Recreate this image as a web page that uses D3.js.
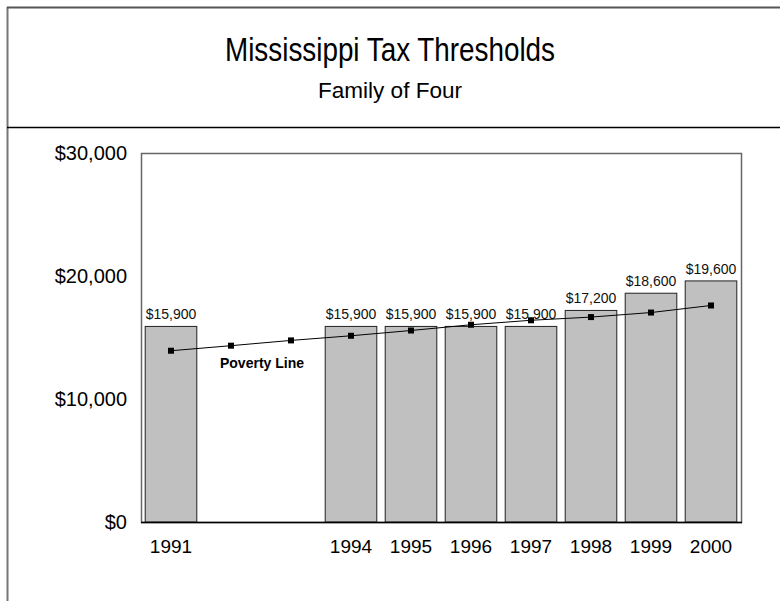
<!DOCTYPE html>
<html>
<head>
<meta charset="utf-8">
<script src="https://cdn.jsdelivr.net/npm/d3@7"></script>
<style>
  body { margin: 0; background: white; }
  svg { display: block; font-family: Arial, "Liberation Sans", sans-serif; }
</style>
</head>
<body>
<script>
// chart data
const years = ["1991", "1992", "1993", "1994", "1995", "1996", "1997", "1998", "1999", "2000"];
// tax threshold, null where no bar is drawn
const thresholds = [15900, null, null, 15900, 15900, 15900, 15900, 17200, 18600, 19600];
// poverty line for a family of four
const poverty = [13924, 14335, 14763, 15141, 15569, 16036, 16400, 16660, 17029, 17603];
const yTicks = [0, 10000, 20000, 30000];

const width = 780;
const height = 601;

// plot area
const plotLeft = 141;
const plotRight = 741;
const plotTop = 153;
const plotBottom = 522;

let svg = d3.select("body").append("svg")
  .attr("width", width)
  .attr("height", height);

// outer frame and header divider
svg.append("line")
  .attr("x1", 7.5).attr("x2", 7.5)
  .attr("y1", 7).attr("y2", height)
  .attr("stroke", "#777").attr("stroke-width", 2);
svg.append("line")
  .attr("x1", 7).attr("x2", width)
  .attr("y1", 7.5).attr("y2", 7.5)
  .attr("stroke", "#555").attr("stroke-width", 2);
svg.append("line")
  .attr("x1", 7).attr("x2", width)
  .attr("y1", 127.5).attr("y2", 127.5)
  .attr("stroke", "black").attr("stroke-width", 1.5);

// titles
svg.append("text")
  .attr("x", 390).attr("y", 61)
  .attr("text-anchor", "middle")
  .attr("font-size", 33)
  .attr("textLength", 330)
  .attr("lengthAdjust", "spacingAndGlyphs")
  .text("Mississippi Tax Thresholds");
svg.append("text")
  .attr("x", 390).attr("y", 98)
  .attr("text-anchor", "middle")
  .attr("font-size", 22)
  .attr("textLength", 144)
  .attr("lengthAdjust", "spacingAndGlyphs")
  .text("Family of Four");

// scales
let x = d3.scaleBand()
  .domain(years)
  .range([plotLeft, plotRight])
  .paddingInner(0.14)
  .paddingOuter(0.07);
let xc = d3.scalePoint()
  .domain(years)
  .range([plotLeft, plotRight])
  .padding(0.5);
let y = d3.scaleLinear()
  .domain([0, 30000])
  .range([plotBottom, plotTop]);

// plot area border
svg.append("rect")
  .attr("x", plotLeft + 0.5).attr("y", plotTop + 0.5)
  .attr("width", plotRight - plotLeft).attr("height", plotBottom - plotTop)
  .attr("fill", "none")
  .attr("stroke", "#666").attr("stroke-width", 1.5);

// bars
let barData = years.map((d, i) => ({ year: d, value: thresholds[i] }))
  .filter(d => d.value !== null);

svg.selectAll(".bar")
  .data(barData)
  .enter().append("rect")
  .attr("class", "bar")
  .attr("x", d => x(d.year))
  .attr("y", d => y(d.value))
  .attr("width", x.bandwidth())
  .attr("height", d => y(0) - y(d.value))
  .attr("fill", "#c0c0c0")
  .attr("stroke", "#222")
  .attr("stroke-width", 1);

// bar value labels
svg.selectAll(".barLabel")
  .data(barData)
  .enter().append("text")
  .attr("class", "barLabel")
  .attr("x", d => xc(d.year))
  .attr("y", d => y(d.value) - 7)
  .attr("text-anchor", "middle")
  .attr("font-size", 14)
  .attr("fill", "#111")
  .text(d => d3.format("$,")(d.value));

// bottom axis line
svg.append("line")
  .attr("x1", plotLeft).attr("x2", plotRight + 1)
  .attr("y1", plotBottom + 0.5).attr("y2", plotBottom + 0.5)
  .attr("stroke", "black").attr("stroke-width", 1.5);

// poverty line
let line = d3.line()
  .x((d, i) => xc(years[i]))
  .y(d => y(d));

svg.append("path")
  .datum(poverty)
  .attr("d", line)
  .attr("fill", "none")
  .attr("stroke", "black")
  .attr("stroke-width", 1);

svg.selectAll(".marker")
  .data(poverty)
  .enter().append("rect")
  .attr("class", "marker")
  .attr("x", (d, i) => xc(years[i]) - 3)
  .attr("y", d => y(d) - 3)
  .attr("width", 6)
  .attr("height", 6)
  .attr("fill", "black");

svg.append("text")
  .attr("x", 262).attr("y", 368)
  .attr("text-anchor", "middle")
  .attr("font-size", 14)
  .attr("font-weight", "bold")
  .text("Poverty Line");

// y axis labels
svg.selectAll(".yLabel")
  .data(yTicks)
  .enter().append("text")
  .attr("class", "yLabel")
  .attr("x", 127)
  .attr("y", d => y(d) + 7)
  .attr("text-anchor", "end")
  .attr("font-size", 20)
  .text(d => d3.format("$,")(d));

// x axis labels, only for years with a bar
svg.selectAll(".xLabel")
  .data(barData)
  .enter().append("text")
  .attr("class", "xLabel")
  .attr("x", d => xc(d.year))
  .attr("y", 553)
  .attr("text-anchor", "middle")
  .attr("font-size", 19)
  .text(d => d.year);
</script>
</body>
</html>
